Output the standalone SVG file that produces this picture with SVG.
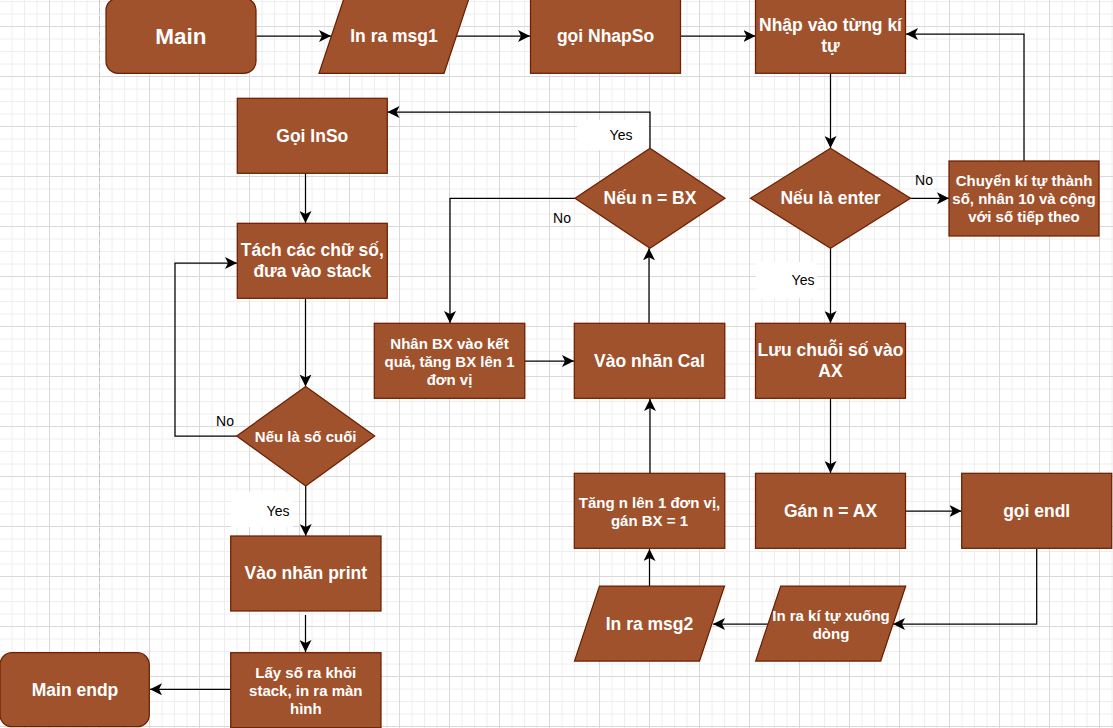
<svg xmlns="http://www.w3.org/2000/svg" width="1113" height="728" viewBox="0 0 1113 728">
<style>
.n{fill:#A0522D;stroke:#6D1F00;stroke-width:1.25}
.t{fill:#ffffff;font-family:"Liberation Sans",Arial,sans-serif;font-weight:bold;text-anchor:middle;dominant-baseline:central}
.l{font-size:17.5px}
.s{font-size:15px}
.c{fill:none;stroke:#000000;stroke-width:1.25}
.lab{fill:#000000;font-family:"Liberation Sans",Arial,sans-serif;font-size:14px;text-anchor:middle;dominant-baseline:central}
</style>
<defs>
<pattern id="grid" width="50" height="50" patternUnits="userSpaceOnUse">
<path d="M12,0V50M24.5,0V50M37,0V50M0,1.5H50M0,14H50M0,39H50" stroke="#eeeeee" stroke-width="1" fill="none"/>
<path d="M49.5,0V50M0,26.5H50" stroke="#d9d9d9" stroke-width="1" fill="none"/>
</pattern>
<marker id="a" markerUnits="userSpaceOnUse" markerWidth="12" markerHeight="12" viewBox="0 0 10 10" refX="10" refY="5" orient="auto">
<path d="M0,0L10,5L0,10L2.5,5Z" fill="#000000"/>
</marker>
</defs>
<rect width="1113" height="728" fill="#ffffff"/>
<rect width="1113" height="728" fill="url(#grid)"/>
<line x1="99.5" y1="0" x2="99.5" y2="728" stroke="#c4c4c4" stroke-width="1" stroke-dasharray="5 3"/>

<g id="connectors">
<path class="c" marker-end="url(#a)" d="M256.5,36H331"/>
<path class="c" marker-end="url(#a)" d="M456.5,36H530"/>
<path class="c" marker-end="url(#a)" d="M680.5,36H755.5"/>
<path class="c" marker-end="url(#a)" d="M830.5,73.3V148"/>
<path class="c" marker-end="url(#a)" d="M910,198.3H949"/>
<path class="c" marker-end="url(#a)" d="M1024,161V34H906"/>
<path class="c" marker-end="url(#a)" d="M830.5,248.3V323"/>
<path class="c" marker-end="url(#a)" d="M830.5,398.7V473"/>
<path class="c" marker-end="url(#a)" d="M906,511H961.5"/>
<path class="c" marker-end="url(#a)" d="M1036.7,549V624H893"/>
<path class="c" marker-end="url(#a)" d="M768,624H713"/>
<path class="c" marker-end="url(#a)" d="M649.5,586V549"/>
<path class="c" marker-end="url(#a)" d="M650,473V399"/>
<path class="c" marker-end="url(#a)" d="M649,323.3V248.3"/>
<path class="c" marker-end="url(#a)" d="M650,148.3V112H387.5"/>
<path class="c" marker-end="url(#a)" d="M575,198.3H450V323"/>
<path class="c" marker-end="url(#a)" d="M525,361H574"/>
<path class="c" marker-end="url(#a)" d="M305.5,173.3V223"/>
<path class="c" marker-end="url(#a)" d="M305.5,299V386.5"/>
<path class="c" marker-end="url(#a)" d="M237,436H175V263H237"/>
<path class="c" marker-end="url(#a)" d="M305.7,486V536"/>
<path class="c" marker-end="url(#a)" d="M305.5,615V652"/>
<path class="c" marker-end="url(#a)" d="M231,689.3H150"/>
<text class="lab" x="924" y="180">No</text>
<rect x="756" y="262" width="61" height="36" fill="#ffffff"/>
<text class="lab" x="803" y="280">Yes</text>
<rect x="577" y="120" width="71" height="30" fill="#ffffff"/>
<text class="lab" x="621" y="135">Yes</text>
<text class="lab" x="562" y="218">No</text>
<text class="lab" x="225" y="421">No</text>
<rect x="231" y="492" width="62" height="35" fill="#ffffff"/>
<text class="lab" x="278" y="511">Yes</text>
</g>

<g id="main">
<rect class="n" x="106" y="-1.7" width="150" height="75" rx="12"/>
<text class="t" x="181" y="36" style="font-size:22.5px">Main</text>
</g>
<g id="msg1">
<polygon class="n" points="344,-1.7 469,-1.7 444,73.3 319,73.3"/>
<text class="t l" x="394" y="36">In ra msg1</text>
</g>
<g id="nhapso">
<rect class="n" x="530.5" y="-1.7" width="150" height="75"/>
<text class="t l" x="605.5" y="36">gọi NhapSo</text>
</g>
<g id="nhap">
<rect class="n" x="755.5" y="-1.7" width="150" height="75"/>
<text class="t l" x="830.5" y="25.3">Nhập vào từng kí</text>
<text class="t l" x="830.5" y="46.3">tự</text>
</g>
<g id="enter">
<polygon class="n" points="830.5,148.3 910.5,198.3 830.5,248.3 750.5,198.3"/>
<text class="t l" x="830.5" y="198.3">Nếu là enter</text>
</g>
<g id="chuyen">
<rect class="n" x="949" y="161" width="150" height="75"/>
<text class="t s" x="1024" y="180.5">Chuyển kí tự thành</text>
<text class="t s" x="1024" y="198.5">số, nhân 10 và cộng</text>
<text class="t s" x="1024" y="216.5">với số tiếp theo</text>
</g>
<g id="luu">
<rect class="n" x="755.5" y="323.3" width="150" height="75"/>
<text class="t l" x="830.5" y="350">Lưu chuỗi số vào</text>
<text class="t l" x="830.5" y="371">AX</text>
</g>
<g id="gan">
<rect class="n" x="755.5" y="473.3" width="150" height="75"/>
<text class="t l" x="830.5" y="511">Gán n = AX</text>
</g>
<g id="endl">
<rect class="n" x="961.7" y="473.3" width="150" height="75"/>
<text class="t l" x="1036.7" y="511">gọi endl</text>
</g>
<g id="xuongdong">
<polygon class="n" points="780.7,586 905.7,586 880.7,661 755.7,661"/>
<text class="t s" x="831" y="615">In ra kí tự xuống</text>
<text class="t s" x="831" y="633">dòng</text>
</g>
<g id="msg2">
<polygon class="n" points="599.5,586 724.5,586 699.5,661 574.5,661"/>
<text class="t l" x="649.5" y="623.5">In ra msg2</text>
</g>
<g id="tang">
<rect class="n" x="574.3" y="473.3" width="150.5" height="75"/>
<text class="t s" x="649.5" y="502">Tăng n lên 1 đơn vị,</text>
<text class="t s" x="649.5" y="520">gán BX = 1</text>
</g>
<g id="cal">
<rect class="n" x="574.3" y="323.3" width="150.5" height="75"/>
<text class="t l" x="649.5" y="361">Vào nhãn Cal</text>
</g>
<g id="nhanbx">
<rect class="n" x="374.3" y="323.3" width="150.5" height="75"/>
<text class="t s" x="449.5" y="343">Nhân BX vào kết</text>
<text class="t s" x="449.5" y="361">quả, tăng BX lên 1</text>
<text class="t s" x="449.5" y="379">đơn vị</text>
</g>
<g id="nbx">
<polygon class="n" points="650,148.3 725,198.3 650,248.3 575,198.3"/>
<text class="t l" x="650" y="198.3">Nếu n = BX</text>
</g>
<g id="inso">
<rect class="n" x="237.3" y="98.3" width="150" height="75"/>
<text class="t l" x="312.3" y="136">Gọi InSo</text>
</g>
<g id="tach">
<rect class="n" x="237.3" y="223.3" width="150" height="75"/>
<text class="t l" x="312.3" y="250">Tách các chữ số,</text>
<text class="t l" x="312.3" y="271">đưa vào stack</text>
</g>
<g id="socuoi">
<polygon class="n" points="305.7,386.5 374.7,436 305.7,486 236.7,436"/>
<text class="t s" x="305.7" y="436">Nếu là số cuối</text>
</g>
<g id="print">
<rect class="n" x="230.7" y="536" width="150.3" height="75"/>
<text class="t l" x="305.8" y="573">Vào nhãn print</text>
</g>
<g id="layso">
<rect class="n" x="230.7" y="652.7" width="150.3" height="75"/>
<text class="t s" x="305.8" y="672">Lấy số ra khỏi</text>
<text class="t s" x="305.8" y="690">stack, in ra màn</text>
<text class="t s" x="305.8" y="708">hình</text>
</g>
<g id="endp">
<rect class="n" x="0" y="652.7" width="149.3" height="74" rx="12"/>
<text class="t l" x="75" y="690">Main endp</text>
</g>
</svg>
